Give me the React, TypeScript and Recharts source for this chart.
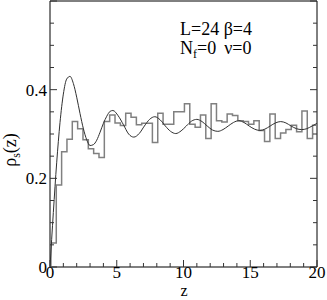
import React from "react"
import { ComposedChart, Line, XAxis, YAxis, ReferenceArea } from "recharts"

// axis ticks
const xTicks = [0, 1, 2, 3, 4, 5, 6, 7, 8, 9, 10, 11, 12, 13, 14, 15, 16, 17, 18, 19, 20]
const yTicks = [0, 0.05, 0.1, 0.15, 0.2, 0.25, 0.3, 0.35, 0.4, 0.45, 0.5, 0.55, 0.6]

// histogram: left edge of each bin (z) and its height
const binEdges = [
  0.07, 0.47, 0.87, 1.27, 1.67, 2.07, 2.47, 2.87, 3.27, 3.67,
  4.07, 4.47, 4.87, 5.27, 5.67, 6.07, 6.47, 6.87, 7.27, 7.67,
  8.07, 8.47, 8.87, 9.27, 9.67, 10.07, 10.47, 10.87, 11.27, 11.67,
  12.07, 12.47, 12.87, 13.27, 13.67, 14.07, 14.47, 14.87, 15.27, 15.67,
  16.07, 16.47, 16.87, 17.27, 17.67, 18.07, 18.47, 18.87, 19.27, 19.67,
]
const binHeights = [
  0.054, 0.185, 0.26, 0.288, 0.328, 0.312, 0.287, 0.267, 0.256, 0.247,
  0.328, 0.343, 0.325, 0.319, 0.347, 0.338, 0.321, 0.324, 0.324, 0.281,
  0.347, 0.322, 0.322, 0.35, 0.35, 0.368, 0.322, 0.315, 0.343, 0.29,
  0.368, 0.33, 0.327, 0.345, 0.342, 0.33, 0.328, 0.322, 0.33, 0.308,
  0.283, 0.345, 0.29, 0.302, 0.31, 0.32, 0.305, 0.352, 0.29, 0.32,
]

// smooth curve rho_s(z)
const curveZ = [
  0, 0.25, 0.5, 0.75, 1, 1.25, 1.5, 1.75, 2, 2.25, 2.5, 2.75, 3, 3.25, 3.5, 3.75, 4, 4.25, 4.5,
  4.71, 5.11, 5.5, 5.89, 6.28, 6.68, 7.07, 7.46, 7.85, 8.25, 8.64, 9.03, 9.42, 9.82,
  10.21, 10.6, 11.0, 11.39, 11.78, 12.17, 12.57, 12.96, 13.35, 13.74, 14.14, 14.53,
  14.92, 15.32, 15.71, 16.1, 16.49, 16.89, 17.28, 17.67, 18.06, 18.46, 18.85, 19.24, 19.63, 20,
]
const curveRho = [
  0, 0.123, 0.235, 0.326, 0.39, 0.424, 0.43, 0.414, 0.383, 0.346, 0.312, 0.287, 0.274, 0.276, 0.286, 0.304, 0.324, 0.34, 0.351,
  0.353, 0.341, 0.321, 0.3, 0.293, 0.301, 0.318, 0.333, 0.339, 0.332, 0.318, 0.306, 0.301, 0.307,
  0.318, 0.329, 0.333, 0.328, 0.318, 0.309, 0.306, 0.31, 0.318, 0.326, 0.33, 0.326,
  0.318, 0.311, 0.308, 0.311, 0.318, 0.325, 0.328, 0.325, 0.318, 0.312, 0.31, 0.312, 0.318, 0.324,
]

const histData = [
  { z: 0, h: 0 },
  ...binEdges.map((z, i) => ({ z, h: binHeights[i] })),
  { z: 20, h: binHeights[binHeights.length - 1] },
]
const curveData = curveZ.map((z, i) => ({ z, rho: curveRho[i] }))

const FONT = "'Liberation Serif', 'DejaVu Serif', serif"
const TICK = "#333"

const isMajorY = (v: number) => Math.abs(v * 5 - Math.round(v * 5)) < 1e-6

function BottomTick({ x, y, payload }: any) {
  const v = payload.value
  const major = v % 5 === 0
  return (
    <g>
      <line x1={x} x2={x} y1={y} y2={y - (major ? 7 : 4)} stroke={TICK} />
      {major && (
        <text x={x} y={y + 11} textAnchor="middle" fontSize={17} fontFamily={FONT} fill="#000">
          {v}
        </text>
      )}
    </g>
  )
}

function TopTick({ x, y, payload }: any) {
  const major = payload.value % 5 === 0
  return <line x1={x} x2={x} y1={y} y2={y + (major ? 7 : 4)} stroke={TICK} />
}

function LeftTick({ x, y, payload }: any) {
  const v = payload.value
  const major = isMajorY(v)
  return (
    <g>
      <line x1={x} x2={x + (major ? 7 : 4)} y1={y} y2={y} stroke={TICK} />
      {major && v < 0.59 && (
        <text x={x - 3} y={y + 6} textAnchor="end" fontSize={17} fontFamily={FONT} fill="#000">
          {v === 0 ? "0" : v.toFixed(1)}
        </text>
      )}
    </g>
  )
}

function RightTick({ x, y, payload }: any) {
  const major = isMajorY(payload.value)
  return <line x1={x} x2={x - (major ? 7 : 4)} y1={y} y2={y} stroke={TICK} />
}

export default function App() {
  return (
    <div style={{ position: "absolute", left: 0, top: 0, width: 327, height: 300, background: "#fff" }}>
      <ComposedChart width={327} height={300} margin={{ top: 0, right: 9, bottom: 32, left: 49 }}>
        <XAxis
          dataKey="z"
          type="number"
          domain={[0, 20]}
          ticks={xTicks}
          interval={0}
          allowDataOverflow
          height={1}
          tickSize={0}
          tickMargin={0}
          axisLine={false}
          tick={<BottomTick />}
        />
        <XAxis
          xAxisId="top"
          orientation="top"
          type="number"
          domain={[0, 20]}
          ticks={xTicks}
          interval={0}
          allowDataOverflow
          height={1}
          tickSize={0}
          tickMargin={0}
          axisLine={false}
          tick={<TopTick />}
        />
        <YAxis
          type="number"
          domain={[0, 0.6]}
          ticks={yTicks}
          interval={0}
          allowDataOverflow
          width={1}
          tickSize={0}
          tickMargin={0}
          axisLine={false}
          tick={<LeftTick />}
        />
        <YAxis
          yAxisId="right"
          orientation="right"
          type="number"
          domain={[0, 0.6]}
          ticks={yTicks}
          interval={0}
          allowDataOverflow
          width={1}
          tickSize={0}
          tickMargin={0}
          axisLine={false}
          tick={<RightTick />}
        />
        <Line
          data={histData}
          dataKey="h"
          type="stepAfter"
          stroke="#808080"
          strokeWidth={1.5}
          dot={false}
          isAnimationActive={false}
        />
        <Line
          data={curveData}
          dataKey="rho"
          type="monotone"
          stroke="#303030"
          strokeWidth={1}
          dot={false}
          isAnimationActive={false}
        />
        <ReferenceArea x1={0} x2={20} y1={0} y2={0.6} fill="none" stroke="#000" strokeWidth={1} />
      </ComposedChart>
      <svg
        width={327}
        height={300}
        style={{ position: "absolute", left: 0, top: 0, pointerEvents: "none" }}
        fontFamily={FONT}
      >
        <text x={180} y={35} fontSize={18} fill="#000">
          L=24 β=4
        </text>
        <text x={180} y={54} fontSize={18} fill="#000">
          N<tspan fontSize={12} dy={4}>f</tspan>
          <tspan dy={-4}>=0</tspan>
          <tspan dx={8}>ν=0</tspan>
        </text>
        <text transform="translate(16,150) rotate(-90)" textAnchor="middle" fontSize={18} fill="#000">
          ρ<tspan fontSize={12} dy={4}>s</tspan>
          <tspan dy={-4}>(z)</tspan>
        </text>
        <text x={184} y={296} textAnchor="middle" fontSize={16} fill="#000">
          z
        </text>
      </svg>
    </div>
  )
}
